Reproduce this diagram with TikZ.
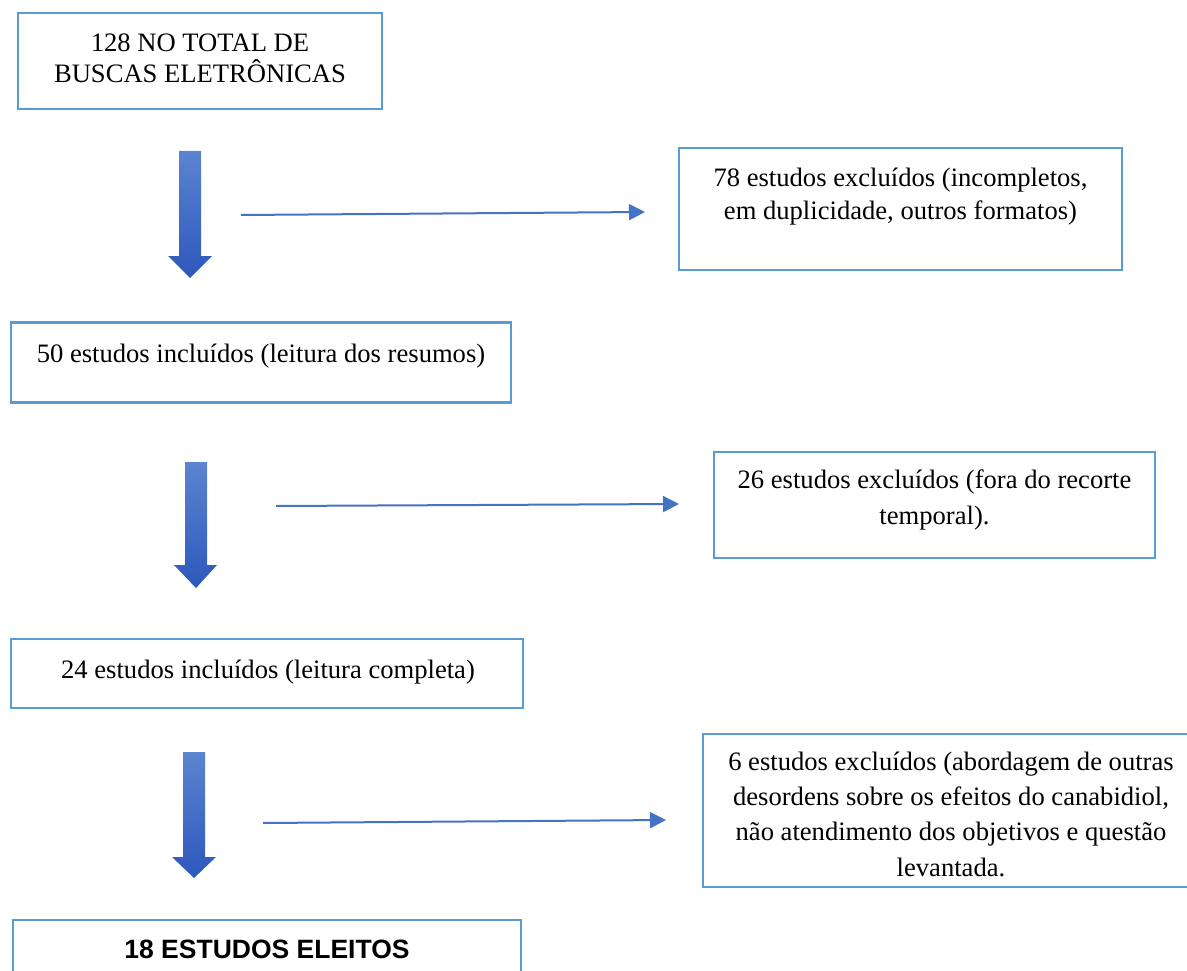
\documentclass[tikz,border=0pt]{standalone}
\usepackage{fontspec}
\setmainfont{Liberation Serif}
\newfontfamily\headsans{Liberation Sans}
\usetikzlibrary{arrows.meta}
\definecolor{boxblue}{RGB}{91,155,213}
\definecolor{arrowblue}{RGB}{68,114,196}
\definecolor{blocktop}{RGB}{92,132,208}
\definecolor{blockbot}{RGB}{44,88,188}
\begin{document}
\begin{tikzpicture}[x=1pt,y=-1pt,
  box/.style={draw=boxblue, line width=2.4pt, rectangle, inner sep=0pt},
  txt/.style={font=\fontsize{26.6}{35.3}\selectfont, align=center, inner sep=0pt, anchor=base},
  exclarrow/.style={draw=arrowblue, line width=2pt, -{Triangle[length=16pt,width=16pt]}},
  blockarrow/.style={top color=blocktop, bottom color=blockbot, draw=none}]
\clip (0,0) rectangle (1187,971);
\fill[white] (0,0) rectangle (1187,971);

% boxes
\node[box, minimum width=364pt, minimum height=96pt]  (b1) at (200,61) {};
\node[box, minimum width=443pt, minimum height=122pt] (b2) at (900.5,209) {};
\node[box, minimum width=500pt, minimum height=80pt]  (b3) at (261,362.5) {};
\node[box, minimum width=441pt, minimum height=106pt] (b4) at (934.5,505) {};
\node[box, minimum width=512pt, minimum height=69pt]  (b5) at (267,673.5) {};
\node[box, minimum width=496pt, minimum height=153pt] (b6) at (951,810.5) {};
\node[box, minimum width=508pt, minimum height=100pt, anchor=north] (b7) at (267,919) {};

% texts (base anchor = last line)
\node[txt, font=\fontsize{26.6}{31}\selectfont] (t1) at (200,83) {128 NO TOTAL DE\\BUSCAS ELETRÔNICAS};
\node[txt, font=\fontsize{26.6}{33}\selectfont] (t2) at (900.5,219) {78 estudos excluídos (incompletos,\\em duplicidade, outros formatos)};
\node[txt] (t3) at (261,362) {50 estudos incluídos (leitura dos resumos)};
\node[txt] (t4) at (934.5,524) {26 estudos excluídos (fora do recorte\\temporal).};
\node[txt] (t5) at (268,678) {24 estudos incluídos (leitura completa)};
\node[txt] (t6) at (951,876) {6 estudos excluídos (abordagem de outras\\desordens sobre os efeitos do canabidiol,\\não atendimento dos objetivos e questão\\levantada.};
\node[font=\headsans\bfseries\fontsize{26.5}{30}\selectfont, inner sep=0pt, anchor=base] (t7) at (267,958) {18 ESTUDOS ELEITOS};

% block arrows
\path[blockarrow] (179,151) -- (201,151) -- (201,256) -- (212,256) -- (190,278) -- (168,256) -- (179,256) -- cycle;
\path[blockarrow] (185,462) -- (207,462) -- (207,565) -- (217,565) -- (196,588) -- (174,565) -- (185,565) -- cycle;
\path[blockarrow] (183,752) -- (205,752) -- (205,857) -- (216,857) -- (194,878) -- (172,857) -- (183,857) -- cycle;

% exclusion arrows
\coordinate (a1s) at (241,215);
\coordinate (a1e) at (645,212);
\coordinate (a2s) at (276,506);
\coordinate (a2e) at (679,504);
\coordinate (a3s) at (263,823);
\coordinate (a3e) at (666,820);
\draw[exclarrow] (a1s) -- (a1e);
\draw[exclarrow] (a2s) -- (a2e);
\draw[exclarrow] (a3s) -- (a3e);
\end{tikzpicture}
\end{document}
